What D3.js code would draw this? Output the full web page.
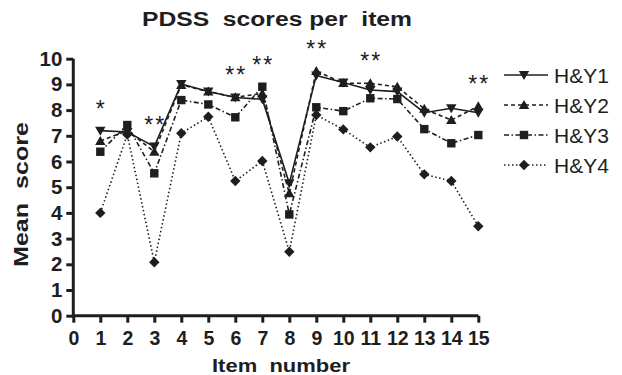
<!DOCTYPE html>
<html><head><meta charset="utf-8">
<script src="https://cdn.jsdelivr.net/npm/d3@7"></script>
<style>body{margin:0;background:#fff}text{font-family:"Liberation Sans",Arial,sans-serif}</style>
</head><body><svg id="c" width="622" height="375"></svg>
<script>
const items = [1,2,3,4,5,6,7,8,9,10,11,12,13,14,15];
const hy1 = [7.2, 7.15, 6.58, 9.02, 8.72, 8.49, 8.42, 5.15, 9.35, 9.07, 8.78, 8.72, 7.9, 8.07, 7.9];
const hy2 = [6.8, 7.2, 6.38, 8.98, 8.72, 8.5, 8.65, 4.76, 9.52, 9.05, 9.04, 8.91, 8.05, 7.61, 8.15];
const hy3 = [6.38, 7.42, 5.54, 8.39, 8.22, 7.72, 8.91, 3.94, 8.11, 7.96, 8.46, 8.43, 7.26, 6.71, 7.03];
const hy4 = [4.0, 7.05, 2.08, 7.1, 7.74, 5.24, 6.02, 2.49, 7.81, 7.25, 6.55, 6.97, 5.5, 5.24, 3.48];
const seriesNames = ["H&Y1","H&Y2","H&Y3","H&Y4"];
const significance = ["*","","**","","","**","**","","**","","**","","","","**"];
const xTicks = d3.range(0,16);
const yTicks = d3.range(0,11);

const svg = d3.select("#c");
const x = d3.scaleLinear().domain([0,15]).range([73.3,478.3]);
const y = d3.scaleLinear().domain([0,10]).range([315.7,58.7]);
const ink = "#1e1e1e";

const series = [
  {name:seriesNames[0], values:hy1, dash:null, sym:"down"},
  {name:seriesNames[1], values:hy2, dash:"4,3", sym:"up"},
  {name:seriesNames[2], values:hy3, dash:"5,2.5,1.5,2.5", sym:"square"},
  {name:seriesNames[3], values:hy4, dash:"1.5,2.5", sym:"diamond"}
];

function marker(g, sym){
  if(sym==="square") return g.append("rect").attr("x",-4.2).attr("y",-4.2).attr("width",8.4).attr("height",8.4);
  if(sym==="diamond") return g.append("path").attr("d","M0,-5.2L5.2,0L0,5.2L-5.2,0Z");
  if(sym==="up") return g.append("path").attr("d","M0,-5L5.2,4L-5.2,4Z");
  return g.append("path").attr("d","M0,5L5.2,-4L-5.2,-4Z");
}

// axes
const xAxis = d3.axisBottom(x).tickValues(xTicks).tickSize(7).tickPadding(8).tickFormat(d3.format("d"));
const gx = svg.append("g").attr("transform",`translate(0,${y(0)})`).call(xAxis);
gx.select(".domain").attr("d",`M${x(0)},0H${x(15)}`).attr("stroke",ink).attr("stroke-width",3);
gx.selectAll(".tick line").attr("stroke",ink).attr("stroke-width",3);
gx.selectAll(".tick text").attr("fill",ink).style("font-size","19.5px").style("font-weight","bold");

const yAxis = d3.axisLeft(y).tickValues(yTicks).tickSize(7).tickPadding(4).tickFormat(d3.format("d"));
const gy = svg.append("g").attr("transform",`translate(${x(0)},0)`).call(yAxis);
gy.select(".domain").attr("d",`M0,${y(10)}V${y(0)}`).attr("stroke",ink).attr("stroke-width",3);
gy.selectAll(".tick line").attr("stroke",ink).attr("stroke-width",3);
gy.selectAll(".tick text").attr("fill",ink).style("font-size","20.5px").style("font-weight","bold");

// lines
const line = d3.line().x((d,i)=>x(items[i])).y(d=>y(d));
series.slice().reverse().forEach(s=>{
  svg.append("path").attr("d",line(s.values)).attr("fill","none").attr("stroke",ink)
    .attr("stroke-width",1.6).attr("stroke-dasharray",s.dash);
});
series.slice().reverse().forEach(s=>{
  s.values.forEach((v,i)=>{
    const g = svg.append("g").attr("transform",`translate(${x(items[i])},${y(v)})`);
    marker(g,s.sym).attr("fill",ink);
  });
});

// significance stars
items.forEach((it,i)=>{
  if(!significance[i]) return;
  const mx = d3.max(series,s=>s.values[i]);
  svg.append("text").attr("x",x(it)+1).attr("y",y(mx)-14).attr("text-anchor","middle")
    .style("font-size","23px").style("letter-spacing","2px").attr("fill",ink).text(significance[i]);
});

// legend
series.forEach((s,i)=>{
  const ly = 75 + i*30;
  svg.append("line").attr("x1",504).attr("x2",548).attr("y1",ly).attr("y2",ly)
    .attr("stroke",ink).attr("stroke-width",1.5).attr("stroke-dasharray",s.dash);
  const g = svg.append("g").attr("transform",`translate(524,${ly})`);
  marker(g,s.sym).attr("fill",ink);
  svg.append("text").attr("x",554).attr("y",ly+7.5).style("font-size","21px").attr("fill",ink).text(s.name);
});

// titles
svg.append("text").attr("x",142).attr("y",25.5).attr("textLength",270).attr("lengthAdjust","spacingAndGlyphs")
  .style("font-size","20px").style("font-weight","bold").style("white-space","pre").attr("fill",ink)
  .text("PDSS  scores per  item");
svg.append("text").attr("x",212).attr("y",372).attr("textLength",138).attr("lengthAdjust","spacingAndGlyphs")
  .style("font-size","19px").style("font-weight","bold").style("white-space","pre").attr("fill",ink)
  .text("Item  number");
svg.append("text").attr("transform","translate(28,267) rotate(-90)").attr("textLength",145).attr("lengthAdjust","spacingAndGlyphs")
  .style("font-size","19.5px").style("font-weight","bold").style("white-space","pre").attr("fill",ink)
  .text("Mean  score");
</script></body></html>
